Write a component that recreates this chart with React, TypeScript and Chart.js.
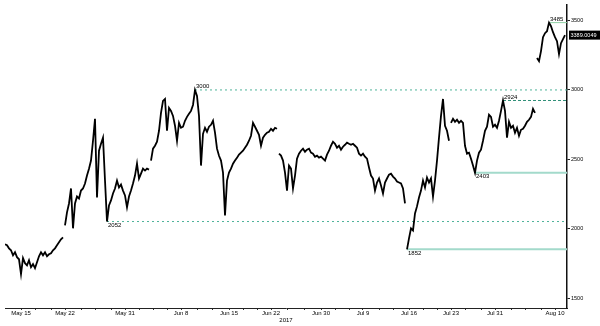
import React, { useEffect, useRef } from "react";
import { Chart, registerables } from "chart.js";

Chart.register(...registerables);

// Price series, one sample per index (index = trading-time position)
const PRICES: number[] = [
  1888, 1881, 1859, 1845, 1809, 1831, 1795, 1780, 1673, 1788,
  1752, 1737, 1773, 1723, 1745, 1716, 1759, 1802, 1831, 1809,
  1831, 1802, 1816, 1823, 1845, 1859, 1881, 1902, 1924, 1938,
  2024, 2118, 2182, 2290, 2003, 2182, 2232, 2218, 2275, 2290,
  2326, 2383, 2433, 2491, 2634, 2792, 2225, 2562, 2612, 2656,
  2347, 2052, 2168, 2204, 2254, 2290, 2347, 2297, 2318, 2275,
  2240, 2154, 2232, 2275, 2326, 2383, 2469, 2362, 2397, 2433,
  2419, 2433, 2426, 2491, 2577, 2598, 2627, 2706, 2835, 2921,
  2935, 2706, 2871, 2849, 2813, 2742, 2634, 2763, 2727, 2735,
  2778, 2806, 2828, 2849, 2892, 3000, 2957, 2813, 2455, 2684,
  2727, 2699, 2735, 2749, 2778, 2692, 2577, 2526, 2491, 2405,
  2096, 2347, 2405, 2433, 2469, 2491, 2512, 2534, 2548, 2562,
  2584, 2605, 2634, 2670, 2763, 2735, 2706, 2677, 2598, 2656,
  2677, 2692, 2699, 2720, 2706, 2727, 2720, 2541, 2527, 2491,
  2405, 2275, 2455, 2433, 2290, 2383, 2505, 2541, 2562, 2577,
  2555, 2570, 2577, 2548, 2541, 2519, 2527, 2512, 2519, 2505,
  2491, 2534, 2562, 2598, 2627, 2612, 2584, 2598, 2570, 2591,
  2605, 2620, 2612, 2605, 2612, 2598, 2584, 2541, 2527, 2541,
  2519, 2505, 2441, 2383, 2362, 2275, 2333, 2362, 2311, 2254,
  2333, 2362, 2390, 2397, 2376, 2362, 2340, 2333, 2326, 2290,
  2182, 1852, 1931, 2003, 1988, 2110, 2161, 2225, 2275, 2347,
  2297, 2369, 2333, 2362, 2232, 2347, 2491, 2656, 2813, 2935,
  2742, 2706, 2634, 2763, 2792, 2770, 2785, 2763, 2778, 2763,
  2598, 2541, 2548, 2505, 2455, 2403, 2491, 2548, 2570, 2634,
  2706, 2735, 2821, 2806, 2735, 2749, 2727, 2778, 2849, 2924,
  2849, 2656, 2770, 2727, 2742, 2692, 2727, 2670, 2713, 2720,
  2742, 2770, 2785, 2806, 2864, 2835, 3230, 3208, 3280, 3380,
  3409, 3423, 3485, 3459, 3416, 3380, 3351, 3258, 3337, 3366,
  3395,
];

// indices where a new (disconnected) line piece begins
const BREAKS: number[] = [30, 73, 137, 201, 223, 266];

const X_LABELS: string[] = [
  "May 15", "May 22", "May 31", "Jun 8", "Jun 15", "Jun 22",
  "Jun 30", "Jul 9", "Jul 16", "Jul 23", "Jul 31", "Aug 10",
];
const X_LABEL_POS: number[] = [8, 30, 60, 88, 112, 133, 158, 179, 202, 223, 245, 275];
const X_MAX = 281;
const YEAR_LABEL = "2017";

const Y_TICKS: number[] = [1500, 2000, 2500, 3000, 3500];
const Y_MIN = 1429;
const Y_MAX = 3617;

const LEVEL_VALUES: number[] = [3000, 2052, 2924, 2403, 1852, 3485];
const LEVEL_START: number[] = [95, 51, 249, 235, 201, 272];
const LEVEL_KIND: string[] = ["dot", "dot", "dash", "solid", "solid", "thin"];
const LEVEL_ABOVE: boolean[] = [true, false, true, false, false, true];

const LAST_LABEL = "3389.0049";

const FONT = '"Liberation Sans", Arial, sans-serif';

const levelStyle = (kind: string) => {
  if (kind === "dot") return { borderColor: "#4fb39a", borderWidth: 1, borderDash: [2, 3] };
  if (kind === "dash") return { borderColor: "#2f8f78", borderWidth: 1, borderDash: [3, 2] };
  if (kind === "solid") return { borderColor: "#a3dacb", borderWidth: 2, borderDash: [] };
  return { borderColor: "#8fd0a4", borderWidth: 1, borderDash: [] };
};

const annotPlugin = {
  id: "annot",
  afterDatasetsDraw(chart: any) {
    const { ctx, scales, chartArea } = chart;
    const x = scales.x;
    const y = scales.y;
    ctx.save();
    ctx.font = `6px ${FONT}`;
    ctx.fillStyle = "#000";
    ctx.textAlign = "left";
    LEVEL_VALUES.forEach((v, k) => {
      const px = x.getPixelForValue(LEVEL_START[k]);
      const py = y.getPixelForValue(v);
      ctx.textBaseline = LEVEL_ABOVE[k] ? "bottom" : "top";
      ctx.fillText(String(v), px + 1, LEVEL_ABOVE[k] ? py - 0.5 : py + 1);
    });
    // last price tag
    const lv = PRICES[PRICES.length - 1];
    const py = y.getPixelForValue(lv);
    const bx = chartArea.right + 2;
    ctx.fillStyle = "#000";
    ctx.fillRect(bx, py - 4.5, 600 - bx, 9);
    ctx.fillStyle = "#fff";
    ctx.font = `5.5px ${FONT}`;
    ctx.textBaseline = "middle";
    ctx.fillText(LAST_LABEL, bx + 1.5, py + 0.5);
    // year label
    ctx.fillStyle = "#000";
    ctx.font = `6px ${FONT}`;
    ctx.textAlign = "center";
    ctx.textBaseline = "middle";
    ctx.fillText(YEAR_LABEL, (x.left + x.right) / 2, x.top + 12.5);
    ctx.restore();
  },
};

export default function App() {
  const ref = useRef<HTMLCanvasElement | null>(null);

  useEffect(() => {
    if (!ref.current) return;
    const minorTicks: number[] = [];
    for (let k = 0; k < X_LABEL_POS.length - 1; k++) {
      const a = X_LABEL_POS[k];
      const b = X_LABEL_POS[k + 1];
      const n = Math.max(1, Math.round((b - a) / 7.5));
      for (let j = 1; j < n; j++) minorTicks.push(Math.round(a + ((b - a) * j) / n));
    }
    const allXTicks = [...X_LABEL_POS, ...minorTicks].sort((p, q) => p - q);

    const datasets: any[] = [
      {
        data: PRICES.map((v, i) => ({ x: i, y: v })),
        borderColor: "#000",
        borderWidth: 1.8,
        pointRadius: 0,
        tension: 0,
        segment: {
          borderColor: (c: any) => (BREAKS.includes(c.p1DataIndex) ? "rgba(0,0,0,0)" : undefined),
        },
      },
      ...LEVEL_VALUES.map((v, k) => ({
        data: [
          { x: LEVEL_START[k], y: v },
          { x: X_MAX, y: v },
        ],
        pointRadius: 0,
        ...levelStyle(LEVEL_KIND[k]),
      })),
    ];

    const chart = new Chart(ref.current, {
      type: "line",
      data: { datasets },
      plugins: [annotPlugin],
      options: {
        animation: false,
        responsive: false,
        devicePixelRatio: 1,
        layout: { padding: { left: 5, top: 3, right: 0, bottom: 0 } },
        plugins: { legend: { display: false }, tooltip: { enabled: false } },
        scales: {
          x: {
            type: "linear",
            min: 0,
            max: X_MAX,
            afterBuildTicks: (s: any) => {
              s.ticks = allXTicks.map((v) => ({ value: v }));
            },
            afterFit: (s: any) => {
              s.height = 18;
            },
            grid: { drawOnChartArea: false, drawTicks: true, tickLength: 2, color: "#333" },
            border: { display: true, color: "#222", width: 1 },
            ticks: {
              autoSkip: false,
              maxRotation: 0,
              minRotation: 0,
              padding: 0,
              color: "#000",
              font: { size: 6, family: FONT },
              callback: (value: any) => {
                const k = X_LABEL_POS.indexOf(Number(value));
                return k >= 0 ? X_LABELS[k] : "";
              },
            },
          },
          y: {
            type: "linear",
            position: "right",
            min: Y_MIN,
            max: Y_MAX,
            afterBuildTicks: (s: any) => {
              s.ticks = Y_TICKS.map((v) => ({ value: v }));
            },
            afterFit: (s: any) => {
              s.width = 33;
            },
            grid: { drawOnChartArea: false, drawTicks: true, tickLength: 3, color: "#222" },
            border: { display: true, color: "#111", width: 1.5 },
            ticks: {
              padding: 1,
              color: "#000",
              font: { size: 5.5, family: FONT },
              callback: (value: any) => String(value),
            },
          },
        },
      },
    });
    return () => chart.destroy();
  }, []);

  return (
    <div style={{ position: "absolute", left: 0, top: 0, width: 600, height: 326, background: "#fff" }}>
      <canvas ref={ref} width={600} height={326} style={{ display: "block", width: 600, height: 326 }} />
    </div>
  );
}
